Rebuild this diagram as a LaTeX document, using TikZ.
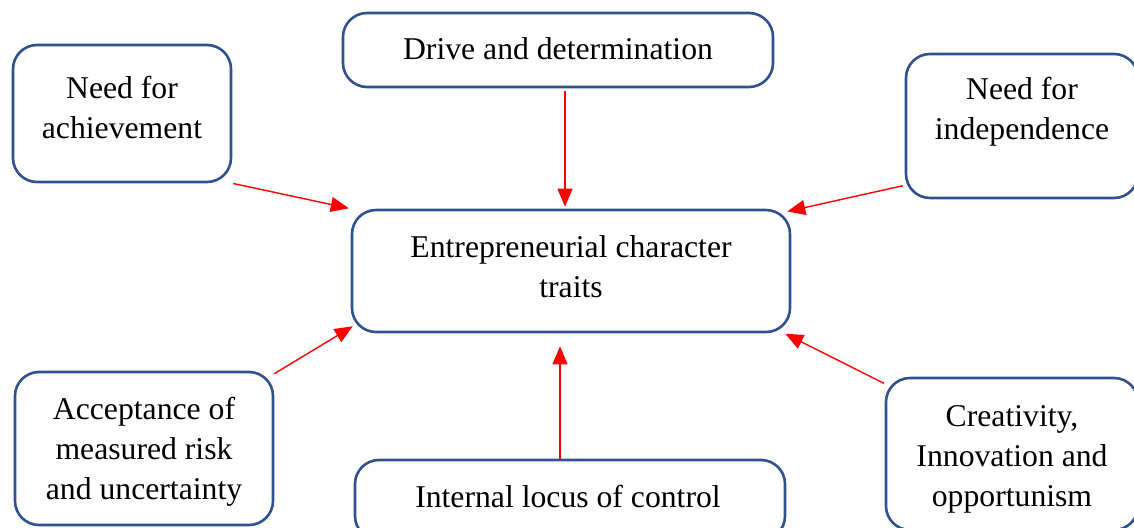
\documentclass[tikz,border=0pt]{standalone}
\usepackage{fontspec}
\setmainfont{Liberation Serif}
\usetikzlibrary{arrows.meta}
\definecolor{boxblue}{RGB}{47,82,143}
\tikzset{
  box/.style={draw=boxblue, line width=2.6pt, rounded corners=24pt, fill=white, inner sep=0pt},
  txt/.style={align=center, inner sep=0pt, font=\fontsize{31.7}{40}\selectfont},
  conn/.style={draw=red, line width=1.4pt, -{Triangle[length=18pt,width=15pt]}}
}
\begin{document}
\begin{tikzpicture}[x=1pt,y=-1pt]
\useasboundingbox (0,0) rectangle (1134,527);
\clip (0,0) rectangle (1134,527);
% boxes
\node[box, minimum width=218pt, minimum height=137pt] (ach) at (122,113.5) {};
\node[box, minimum width=430pt, minimum height=74pt] (drv) at (558,50) {};
\node[box, minimum width=232pt, minimum height=144pt] (ind) at (1022,126) {};
\node[box, minimum width=438pt, minimum height=122pt] (ctr) at (571,271) {};
\node[box, minimum width=258pt, minimum height=153pt] (acc) at (144,448.5) {};
\node[box, minimum width=430pt, minimum height=80pt] (int) at (570,500) {};
\node[box, minimum width=252pt, minimum height=152pt] (cre) at (1012,454) {};
% texts
\node[txt] (achT) at (122,107) {Need for\\achievement};
\node[txt] (drvT) at (558,49) {Drive and determination};
\node[txt] (indT) at (1022,112) {Need for\\independence};
\node[txt] (ctrT) at (571,267) {Entrepreneurial character\\traits};
\node[txt] (accT) at (144,452) {Acceptance of\\measured risk\\and uncertainty};
\node[txt] (intT) at (568,496) {Internal locus of control};
\node[txt] (creT) at (1012,459) {Creativity,\\Innovation and\\opportunism};
% connectors
\draw[conn, shorten <=1pt, shorten >=2pt] (ach.south east) -- (ctr.north west);
\draw[conn, shorten <=3pt, shorten >=2pt] ([xshift=7pt]drv.south) -- ([xshift=-6pt]ctr.north);
\draw[conn, shorten <=2pt, shorten >=1pt] ([yshift=14pt]ind.south west) -- ([xshift=-5pt,yshift=-3pt]ctr.north east);
\draw[conn] ([yshift=-3pt]acc.north east) -- ([xshift=2pt,yshift=7pt]ctr.south west);
\draw[conn, shorten >=13pt] ([xshift=-10pt]int.north) -- ([xshift=-11pt]ctr.south);
\draw[conn, shorten <=1pt, shorten >=1pt] ([yshift=-7pt]cre.north west) -- ([xshift=-7pt]ctr.south east);
\end{tikzpicture}
\end{document}
